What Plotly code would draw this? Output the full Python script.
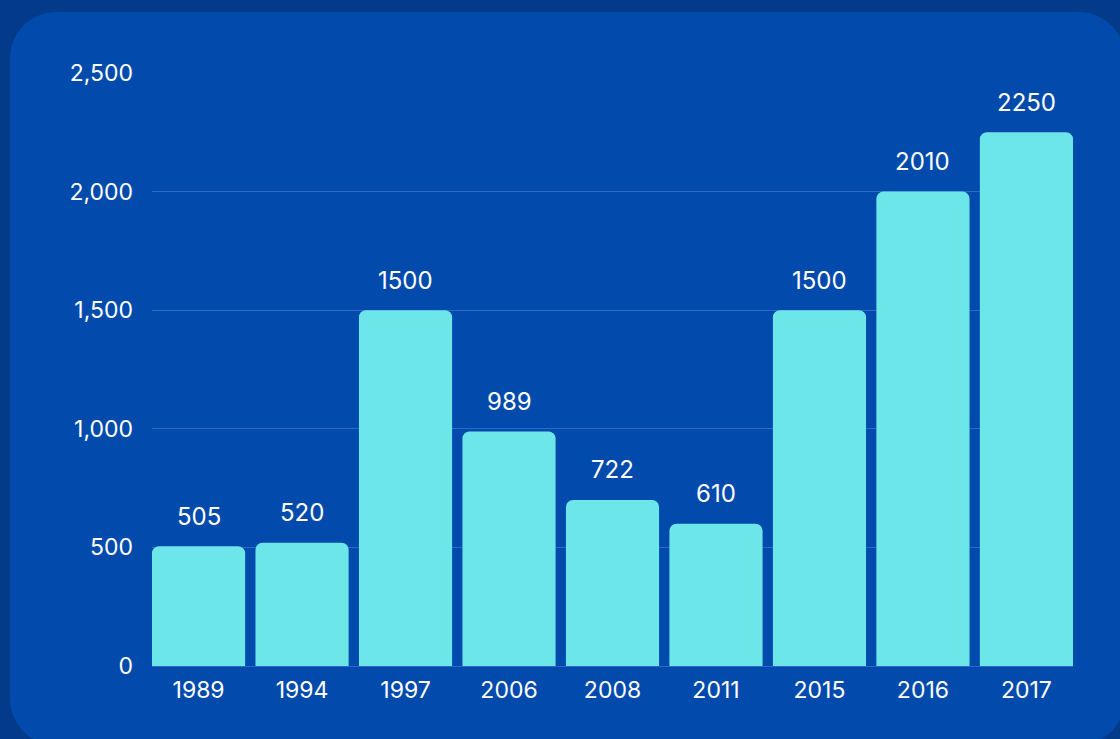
import plotly.graph_objects as go

years = ["1989", "1994", "1997", "2006", "2008", "2011", "2015", "2016", "2017"]
bar_values = [505, 520, 1500, 989, 700, 600, 1500, 2000, 2250]
label_texts = ["505", "520", "1500", "989", "722", "610", "1500", "2010", "2250"]
y_ticks = [0, 500, 1000, 1500, 2000, 2500]
y_tick_labels = ["0", "500", "1,000", "1,500", "2,000", "2,500"]

W, H = 1120, 739
L, R, T, B = 152, 47, 73, 73
PW, PH = W - L - R, H - T - B

OUTER = "#033a8a"
PANEL = "#024bad"
BAR = "#6ce6e8"
GRID = "#2f68c8"
FONT = "Inter"
BARGAP = 0.1
PAD = BARGAP / 2


def px(x):
    return (x - L) / PW


def py(y):
    return (H - B - y) / PH


# rounded panel path in paper coordinates
x0, x1, y0, y1, r = 10, 1125, 12, 745, 46
k = 0.45  # bezier control factor for corner
path = (
    f"M {px(x0 + r)},{py(y0)} "
    f"L {px(x1 - r)},{py(y0)} "
    f"C {px(x1 - r * k)},{py(y0)} {px(x1)},{py(y0 + r * k)} {px(x1)},{py(y0 + r)} "
    f"L {px(x1)},{py(y1 - r)} "
    f"C {px(x1)},{py(y1 - r * k)} {px(x1 - r * k)},{py(y1)} {px(x1 - r)},{py(y1)} "
    f"L {px(x0 + r)},{py(y1)} "
    f"C {px(x0 + r * k)},{py(y1)} {px(x0)},{py(y1 - r * k)} {px(x0)},{py(y1 - r)} "
    f"L {px(x0)},{py(y0 + r)} "
    f"C {px(x0)},{py(y0 + r * k)} {px(x0 + r * k)},{py(y0)} {px(x0 + r)},{py(y0)} Z"
)

fig = go.Figure()
fig.add_trace(
    go.Bar(
        x=years,
        y=bar_values,
        marker=dict(color=BAR, line=dict(width=0), cornerradius=7),
        hoverinfo="skip",
    )
)

# category axis: annotate by category index
for i, (v, t) in enumerate(zip(bar_values, label_texts)):
    fig.add_annotation(
        x=i, y=v, text=t, showarrow=False, yanchor="middle", yshift=30,
        font=dict(family=FONT, size=24, color="white"),
    )

fig.add_shape(type="path", path=path, xref="paper", yref="paper",
              fillcolor=PANEL, line=dict(width=0), layer="below")

fig.update_layout(
    width=W, height=H,
    margin=dict(l=L, r=R, t=T, b=B),
    paper_bgcolor=OUTER,
    plot_bgcolor="rgba(0,0,0,0)",
    bargap=BARGAP,
    showlegend=False,
    font=dict(family=FONT, size=23, color="white"),
    xaxis=dict(type="category", range=[-0.5 + PAD, len(years) - 0.5 - PAD],
               showgrid=False, showline=False, zeroline=False, ticks="",
               tickfont=dict(size=23, color="white"), ticklabelstandoff=8),
    yaxis=dict(range=[0, 2500], tickvals=y_ticks, ticktext=y_tick_labels,
               showgrid=True, gridcolor=GRID, gridwidth=1, zeroline=True,
               zerolinecolor=GRID, zerolinewidth=1, showline=False, ticks="",
               tickfont=dict(size=23, color="white"), ticklabelstandoff=18),
)

fig.write_html("out.html", config={"displayModeBar": False},
               post_script="document.body.style.margin='0';")
